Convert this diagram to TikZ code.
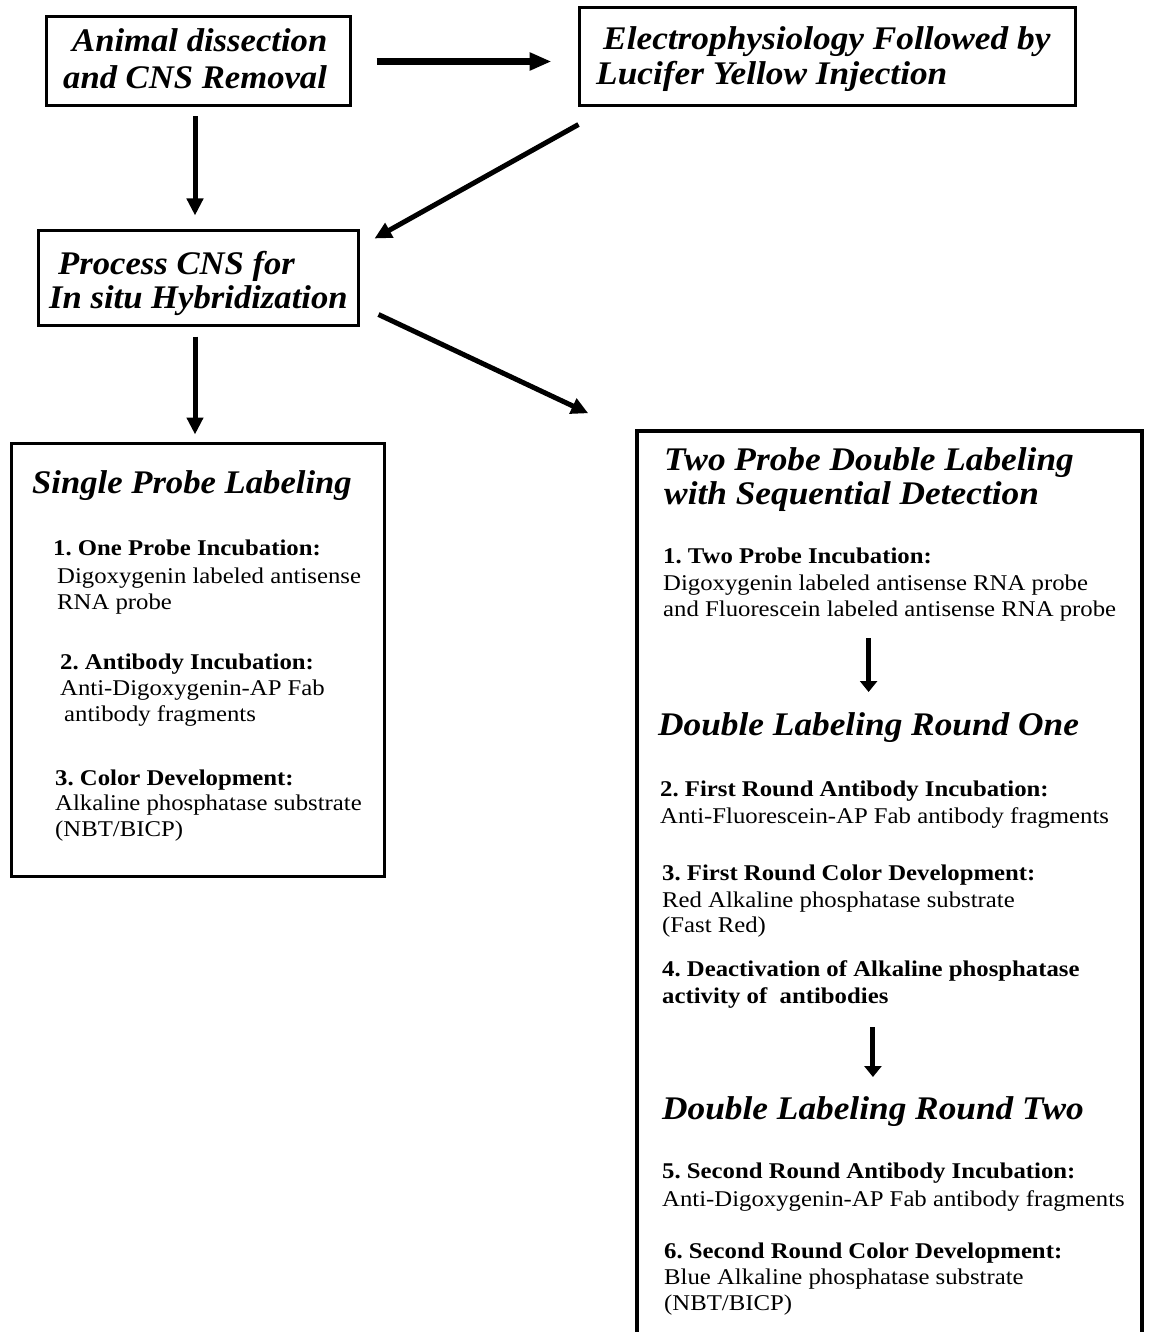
\documentclass[tikz,border=0pt]{standalone}
\usepackage{fontspec}
\setmainfont{Liberation Serif}
\newfontfamily\bodyfont{Liberation Serif}[FakeStretch=1.1]
\newfontfamily\titlefont{Liberation Serif}[FakeStretch=1.07]
\newfontfamily\titlefontn{Liberation Serif}[FakeStretch=1.05]
\usetikzlibrary{arrows.meta}
\frenchspacing
\tikzset{
  box/.style={draw, line width=3pt, inner sep=0pt, rectangle},
  ttl/.style={font=\titlefont\bfseries\itshape\fontsize{33}{38}\selectfont, anchor=base west, inner sep=0pt},
  ttln/.style={font=\titlefontn\bfseries\itshape\fontsize{33}{38}\selectfont, anchor=base west, inner sep=0pt},
  hd/.style={font=\bodyfont\bfseries\fontsize{22.5}{27}\selectfont, anchor=base west, inner sep=0pt},
  bd/.style={font=\bodyfont\fontsize{22.5}{27}\selectfont, anchor=base west, inner sep=0pt},
  arr/.style={line width=5pt, -{Triangle[length=17pt,width=16pt]}},
  smallarr/.style={line width=5pt, -{Triangle[length=11pt,width=17pt]}},
}
\begin{document}
\begin{tikzpicture}[x=1pt,y=-1pt]
\useasboundingbox (0,0) rectangle (1148,1332);
\clip (0,0) rectangle (1148,1332);
\fill[white] (0,0) rectangle (1148,1332);

% boxes
\node[box, minimum width=304pt, minimum height=89pt] (A) at (198,61.5) {};
\node[box, minimum width=496pt, minimum height=98pt] (B) at (827,57) {};
\node[box, minimum width=320pt, minimum height=94pt] (C) at (198,278) {};
\node[box, minimum width=373pt, minimum height=433pt] (D) at (197.5,659.5) {};
\node[box, line width=3.5pt, minimum width=505pt, minimum height=919pt] (E) at (889.5,890.5) {};

% box texts
\node[ttln] (a1) at (72,52) {Animal dissection};
\node[ttln] (a2) at (63,89) {and CNS Removal};
\node[ttl] (b1) at (603,50) {Electrophysiology Followed by};
\node[ttl] (b2) at (596,85) {Lucifer Yellow Injection};
\node[ttln] (c1) at (58,274) {Process CNS for};
\node[ttln] (c2) at (49,308) {In situ Hybridization};

% single probe box
\node[ttln] (dt) at (32,493) {Single Probe Labeling};
\node[hd] (d1h) at (53,555) {1. One Probe Incubation:};
\node[bd] (d1a) at (57,583) {Digoxygenin labeled antisense};
\node[bd] (d1b) at (57,609) {RNA probe};
\node[hd] (d2h) at (60,669) {2. Antibody Incubation:};
\node[bd] (d2a) at (60,695) {Anti-Digoxygenin-AP Fab};
\node[bd] (d2b) at (64,721) {antibody fragments};
\node[hd] (d3h) at (55,785) {3. Color Development:};
\node[bd] (d3a) at (55,810) {Alkaline phosphatase substrate};
\node[bd] (d3b) at (55,836) {(NBT/BICP)};

% two probe box
\node[ttl] (et1) at (664,470) {Two Probe Double Labeling};
\node[ttl] (et2) at (664,504) {with Sequential Detection};
\node[hd] (e1h) at (663,563) {1. Two Probe Incubation:};
\node[bd] (e1a) at (663,590) {Digoxygenin labeled antisense RNA probe};
\node[bd] (e1b) at (663,616) {and Fluorescein labeled antisense RNA probe};
\node[ttl] (er1) at (658,735) {Double Labeling Round One};
\node[hd] (e2h) at (660,796) {2. First Round Antibody Incubation:};
\node[bd] (e2a) at (660,823) {Anti-Fluorescein-AP Fab antibody fragments};
\node[hd] (e3h) at (662,880) {3. First Round Color Development:};
\node[bd] (e3a) at (662,907) {Red Alkaline phosphatase substrate};
\node[bd] (e3b) at (662,932) {(Fast Red)};
\node[hd] (e4a) at (662,976) {4. Deactivation of Alkaline phosphatase};
\node[hd] (e4b) at (662,1003) {activity of\ \ antibodies};
\node[ttl] (er2) at (662,1119) {Double Labeling Round Two};
\node[hd] (e5h) at (662,1178) {5. Second Round Antibody Incubation:};
\node[bd] (e5a) at (662,1206) {Anti-Digoxygenin-AP Fab antibody fragments};
\node[hd] (e6h) at (664,1258) {6. Second Round Color Development:};
\node[bd] (e6a) at (664,1284) {Blue Alkaline phosphatase substrate};
\node[bd] (e6b) at (664,1310) {(NBT/BICP)};

% connectors
\draw[arr, line width=7pt, -{Triangle[length=22pt,width=17pt]}] ([xshift=25pt]A.east) -- ([xshift=-26pt]A.east -| B.west);
\draw[arr, shorten <=9pt, shorten >=14pt] ([xshift=-3pt]A.south) -- ([xshift=-3pt]C.north);
\draw[arr] ([xshift=1pt,yshift=-17pt]B.south west) -- ([xshift=15pt,yshift=-9pt]C.north east);
\draw[arr, shorten <=10pt, shorten >=7pt] ([xshift=-3pt]C.south) -- ([xshift=-3pt]C.south |- D.north);
\draw[arr] ([xshift=19pt,yshift=12pt]C.south east) -- ([xshift=-47pt,yshift=16pt]E.north west);
\draw[smallarr, shorten <=22pt, shorten >=43pt] (e1b.base -| er1.base) -- (er1.base);
\draw[smallarr, shorten <=24pt, shorten >=42pt] (e4b.base -| er2.base) -- (er2.base);
\end{tikzpicture}
\end{document}
